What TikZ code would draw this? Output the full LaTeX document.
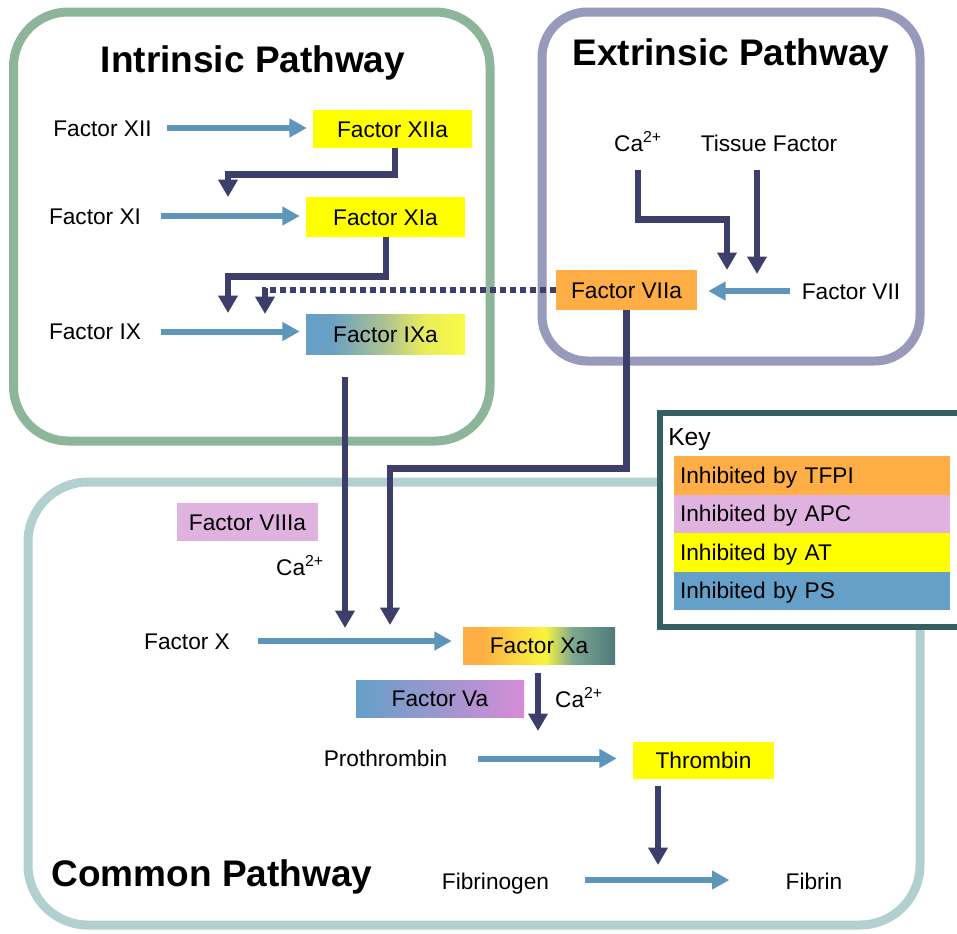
\documentclass[tikz,border=0pt]{standalone}
\usepackage{fontspec}
\setmainfont{Liberation Sans}
\usetikzlibrary{arrows.meta,calc}
\definecolor{steel}{RGB}{94,150,187}
\definecolor{navy}{RGB}{62,62,106}
\definecolor{gframe}{RGB}{141,181,153}
\definecolor{pframe}{RGB}{153,153,187}
\definecolor{cframe}{RGB}{179,208,209}
\definecolor{kframe}{RGB}{54,95,97}
\definecolor{orng}{RGB}{255,174,69}
\definecolor{pnk}{RGB}{224,178,224}
\definecolor{ylw}{RGB}{255,255,0}
\definecolor{kblue}{RGB}{101,160,200}
\definecolor{xteal}{RGB}{78,122,122}
\definecolor{ixb}{RGB}{105,160,195}
\definecolor{ixm}{RGB}{175,195,145}
\definecolor{ixyone}{RGB}{232,236,90}
\definecolor{ixy}{RGB}{250,250,70}
\definecolor{xay}{RGB}{248,245,60}
\definecolor{xag}{RGB}{125,168,145}
\definecolor{vap}{RGB}{214,140,214}
\pgfdeclarehorizontalshading{ixashade}{100bp}{color(0bp)=(kblue); color(25bp)=(kblue); color(33bp)=(ixb); color(50bp)=(ixm); color(62bp)=(ixyone); color(75bp)=(ixy); color(100bp)=(ixy)}
\pgfdeclarehorizontalshading{xashade}{100bp}{color(0bp)=(orng); color(25bp)=(orng); color(31bp)=(orng); color(52bp)=(xay); color(61bp)=(xag); color(75bp)=(xteal); color(100bp)=(xteal)}
\pgfdeclarehorizontalshading{vashade}{100bp}{color(0bp)=(kblue); color(25bp)=(kblue); color(75bp)=(vap); color(100bp)=(vap)}
\begin{document}
\begin{tikzpicture}[x=0.75pt,y=-0.75pt,
  lab/.style={inner sep=0pt, text height=12.3pt, text depth=0pt, font=\fontsize{17}{20}\selectfont},
  ttl/.style={inner sep=0pt, text height=19.9pt, text depth=0pt, font=\fontsize{27.75}{32}\selectfont\bfseries},
  fbox/.style={lab, minimum width=#1},
  frame/.style={line width=6.75pt},
  barrow/.style={draw=steel, line width=4.5pt, -{Triangle[length=13pt,width=13.5pt]}},
  darrow/.style={draw=navy, line width=5pt, -{Triangle[length=13pt,width=14pt]}},
  dline/.style={draw=navy, line width=5pt, dash pattern=on 4.5pt off 3pt},
  keyrow/.style={lab, text width=198pt, inner xsep=4.5pt, inner ysep=0pt, align=left, minimum height=28.875pt}
]
\useasboundingbox (0,0) rectangle (957,933);
% frames
\draw[frame, gframe, rounded corners=41pt] (13.5,12) rectangle (490,441);
\draw[frame, pframe, rounded corners=34pt] (542,12) rectangle (920,361);
\draw[frame, cframe, rounded corners=45pt] (28,482) rectangle (920,925);

% titles
\node[ttl] (tint) at (253,59) {Intrinsic Pathway};
\node[ttl] (text) at (731,52) {Extrinsic Pathway};
\node[ttl] (tcom) at (212,873) {Common Pathway};

% intrinsic nodes
\node[lab] (f12) at (102.5,128) {Factor XII};
\node[fbox=119.25pt, minimum height=28.5pt, fill=ylw] (f12a) at (392.5,129) {Factor XIIa};
\node[lab] (f11) at (95,216) {Factor XI};
\node[fbox=119.25pt, minimum height=30pt, fill=ylw] (f11a) at (385.5,217) {Factor XIa};
\node[lab] (f9) at (95,331.5) {Factor IX};
\node[fbox=119.25pt, minimum height=30pt, shade, shading=ixashade] (f9a) at (385.5,334) {Factor IXa};

% extrinsic nodes
\node[lab] (ca1) at (638,143) {Ca\textsuperscript{2+}};
\node[lab] (tf) at (769,143) {Tissue Factor};
\node[lab] (f7) at (851,291) {Factor VII};
\node[fbox=105.75pt, minimum height=30pt, fill=orng] (f7a) at (626.5,290) {Factor VIIa};

% common nodes
\node[fbox=105.75pt, minimum height=28.5pt, fill=pnk] (f8a) at (247.5,522) {Factor VIIIa};
\node[lab] (ca2) at (300,567) {Ca\textsuperscript{2+}};
\node[lab] (fx) at (187,641) {Factor X};
\node[fbox=114pt, minimum height=27.75pt, shade, shading=xashade] (fxa) at (539,645.5) {Factor Xa};
\node[fbox=126pt, minimum height=27.75pt, shade, shading=vashade] (fva) at (440,698.5) {Factor Va};
\node[lab] (ca3) at (579,699) {Ca\textsuperscript{2+}};
\node[lab] (pro) at (385.5,758.5) {Prothrombin};
\node[fbox=105.75pt, minimum height=27.75pt, fill=ylw] (thr) at (703.5,760.5) {Thrombin};
\node[lab] (fib) at (495.5,881) {Fibrinogen};
\node[lab] (fibrin) at (814,881) {Fibrin};

% target coordinates
\coordinate (t11) at (228,197);
\coordinate (t9a) at (228,313);
\coordinate (d9) at (265,288);
\coordinate (t9b) at (265,314);
\coordinate (t7a) at (727,270);
\coordinate (t7b) at (757,274);
\coordinate (txa) at (345,628);
\coordinate (txb) at (390,625);
\coordinate (tpro) at (538,731);
\coordinate (tfib) at (658,865);

% steel conversion arrows
\draw[barrow] ($(f12.east)+(15,0)$) -- ($(f12.east -| f12a.west)+(-6,0)$);
\draw[barrow] ($(f11.east)+(20,0)$) -- ($(f11.east -| f11a.west)+(-6,0)$);
\draw[barrow] ($(f9.east)+(20,0)$) -- ($(f9.east -| f9a.west)+(-6,0)$);
\draw[barrow] ($(f7.west)+(-12,0)$) -- ($(f7.west -| f7a.east)+(11,0)$);
\draw[barrow] ($(fx.east)+(28,0)$) -- ($(fx.east -| fxa.west)+(-11,0)$);
\draw[barrow] ($(pro.east)+(30,0)$) -- ($(pro.east -| thr.west)+(-16,0)$);
\draw[barrow] ($(fib.east)+(36,-1)$) -- ($(fib.east -| fibrin.west)+(-56,-1)$);

% navy activation connectors
\draw[darrow] ($(f12a.south)+(2.5,0)$) -- ++(0,26) -| (t11);
\draw[darrow] ($(f11a.south)+(0.5,0)$) -- ++(0,39) -| (t9a);
\draw[dline] (f7a.west) -- ($(f7a.west -| d9)+(-3,0)$);
\draw[darrow] (d9) -- (t9b);
\draw[darrow] ($(ca1.south)+(0,19)$) -- ++(0,49) -| (t7a);
\draw[darrow] ($(tf.south |- ca1.south)+(-12,19)$) -- (t7b);
\draw[darrow] ($(f9a.south)+(-40.5,23)$) -- (txa);
\draw[darrow] (f7a.south) -- ++(0,158) -| (txb);
\draw[darrow] ($(fxa.south)+(-1,9)$) -- (tpro);
\draw[darrow] ($(thr.south)+(-45.5,7)$) -- (tfib);

% key
\draw[kframe, line width=4.5pt, fill=white] (660,413) rectangle (975,627);
\node[lab, anchor=west, font=\fontsize{18.5}{22}\selectfont] (key) at (668,437) {Key};
\node[keyrow, fill=orng] (k1) at (812,475.25) {Inhibited by TFPI};
\node[keyrow, fill=pnk] (k2) at (812,513.75) {Inhibited by APC};
\node[keyrow, fill=ylw] (k3) at (812,552.25) {Inhibited by AT};
\node[keyrow, fill=kblue] (k4) at (812,590.75) {Inhibited by PS};
\end{tikzpicture}
\end{document}
